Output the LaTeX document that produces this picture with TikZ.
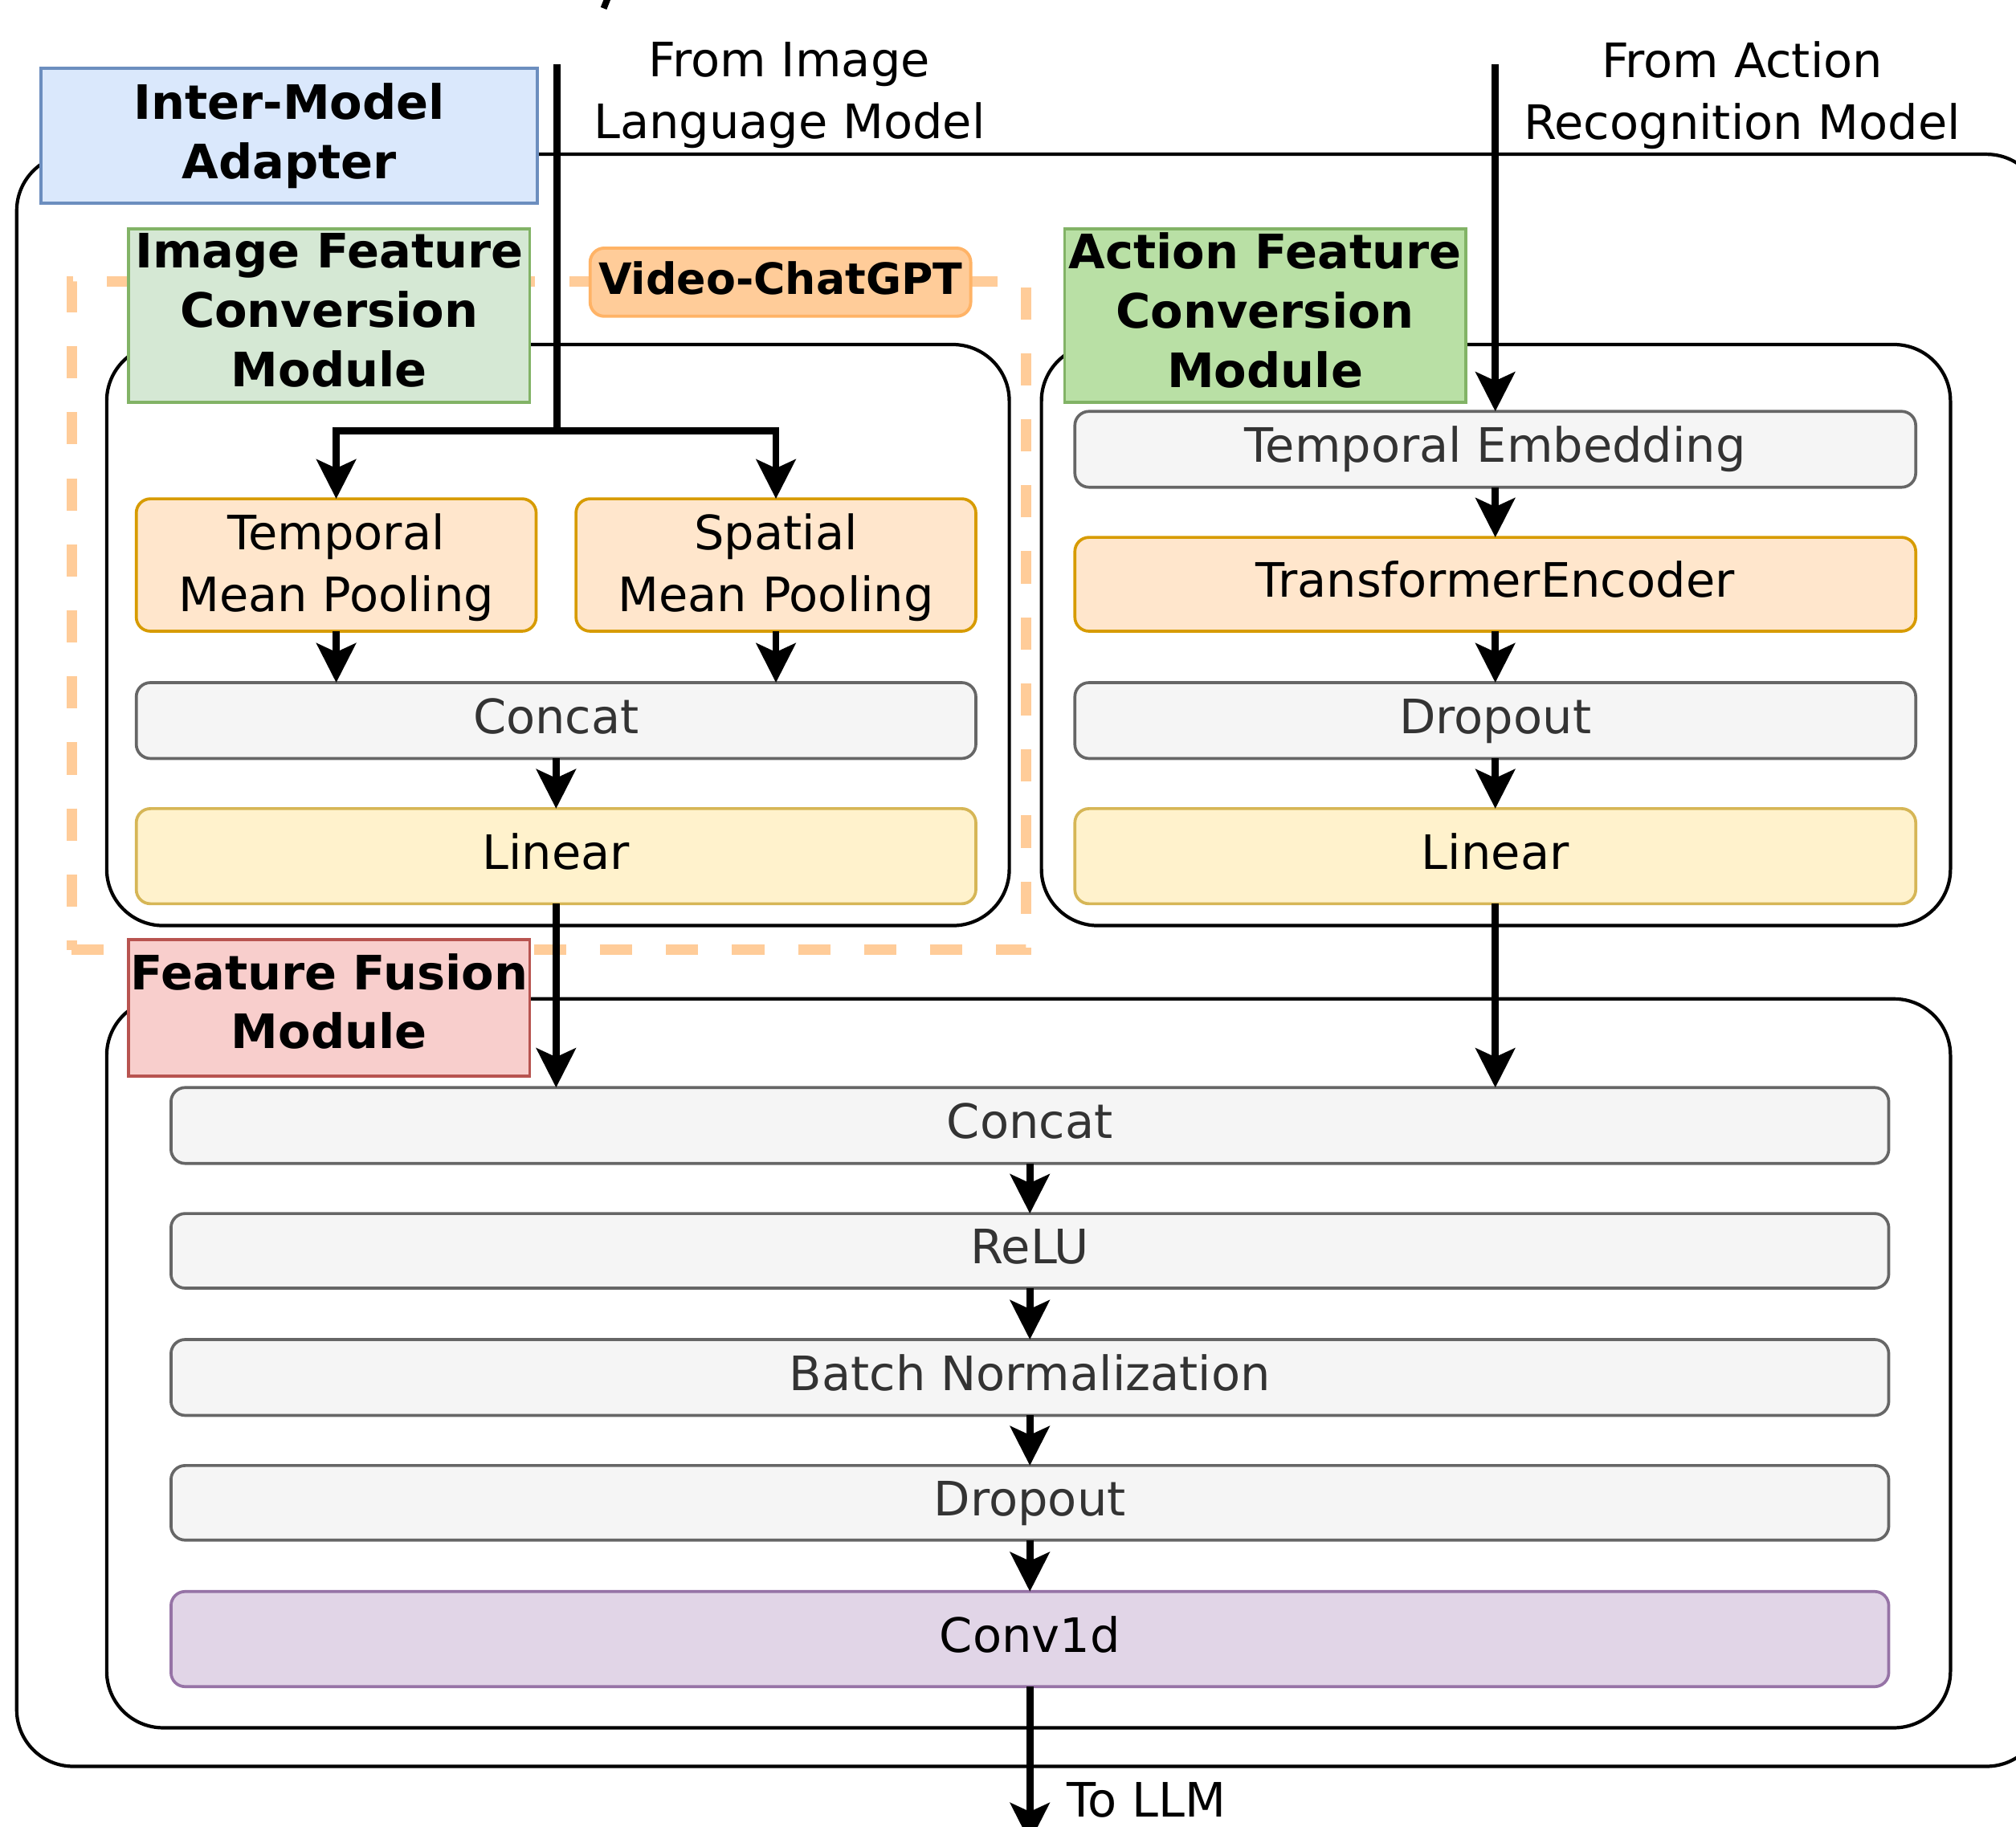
\documentclass[tikz,border=0pt]{standalone}
\usepackage{fontspec}
\setmainfont{DejaVu Sans}
\usetikzlibrary{arrows.meta,fit}
\definecolor{cgrayf}{HTML}{F5F5F5}
\definecolor{cgrayd}{HTML}{666666}
\definecolor{cgrayt}{HTML}{333333}
\definecolor{corf}{HTML}{FFE6CC}
\definecolor{cord}{HTML}{D79B00}
\definecolor{cyelf}{HTML}{FFF2CC}
\definecolor{cyeld}{HTML}{D6B656}
\definecolor{cpurf}{HTML}{E1D5E7}
\definecolor{cpurd}{HTML}{9673A6}
\definecolor{cbluef}{HTML}{DAE8FC}
\definecolor{cblued}{HTML}{6C8EBF}
\definecolor{cgrnf}{HTML}{D5E8D4}
\definecolor{cgrnd}{HTML}{82B366}
\definecolor{cgrn2f}{HTML}{B9E0A5}
\definecolor{credf}{HTML}{F8CECC}
\definecolor{credd}{HTML}{B85450}
\definecolor{cvcgf}{HTML}{FFCC99}
\definecolor{cvcgd}{HTML}{FFB366}
\definecolor{cdash}{HTML}{FFCC99}
\newcommand{\fsn}{\fontsize{16.8pt}{21.9pt}\selectfont}
\newcommand{\fsb}{\fontsize{16.8pt}{21pt}\selectfont\bfseries}
\newcommand{\fsv}{\fontsize{15.3pt}{19pt}\selectfont\bfseries}
% \mkbox[text shift]{style}{x1}{y1}{x2}{y2}{name}{text}
\newcommand{\mkbox}[8][0]{%
  \node[#2, minimum width={(#5-#3)*0.16008mm}, minimum height={(#6-#4)*0.16008mm}] (#7) at ({(#3+#5)/2},{(#4+#6)/2}) {};
  \node[#2, draw=none, fill=none, minimum width=0pt, minimum height=0pt] (#7-t) at ({(#3+#5)/2},{(#4+#6)/2+#1}) {#8};}
\tikzset{
  base/.style={inner sep=0pt, outer sep=0pt, align=center, font=\fsn},
  one/.style={text height=0.78em, text depth=0.22em},
  container/.style={base, draw=black, line width=1.2pt, rounded corners=20pt},
  blk/.style={base, line width=1.05pt, rounded corners=5pt},
  graybox/.style={blk, draw=cgrayd, fill=cgrayf, text=cgrayt},
  orangebox/.style={blk, draw=cord, fill=corf},
  yellowbox/.style={blk, draw=cyeld, fill=cyelf},
  purplebox/.style={blk, draw=cpurd, fill=cpurf},
  lbl/.style={base, font=\fsb, line width=1.1pt},
  vcgdash/.style={base, draw=cdash, line width=3.7pt, dash pattern=on 11.4pt off 12pt},
  arr/.style={line width=2.5pt, -{Stealth[length=13.9pt, width=13.9pt, inset=3.1pt]}},
  plain/.style={base, font=\fsn}
}
\begin{document}
\begin{tikzpicture}[x=0.16008mm, y=-0.16008mm]
\useasboundingbox (0,0) rectangle (1568,1421);
\clip (0,0) rectangle (1568,1421);
% cut-off fragment at top
\draw[line width=2.3pt] (469.5,6.5) -- (472.5,-1);
% containers
\node[container, fit={(13,120)(1589,1374)}] (adapter) {};
\node[vcgdash, fit={(55.6,219)(798,739)}] (vcg) {};
\node[container, fit={(83,268)(785,720)}] (imgmod) {};
\node[container, fit={(810,268)(1517,720)}] (actmod) {};
\node[container, fit={(83,777)(1517,1344)}] (fusmod) {};
% image branch
\mkbox[2]{orangebox}{106}{388}{417}{491}{tmp}{Temporal\\Mean Pooling}
\mkbox[2]{orangebox}{448}{388}{759}{491}{spa}{Spatial\\Mean Pooling}
\mkbox[4]{graybox,one}{106}{531}{759}{590}{cat1}{Concat}
\mkbox[4]{yellowbox,one}{106}{629}{759}{703}{lin1}{Linear}
% action branch
\mkbox[4]{graybox,one}{836}{320}{1490}{379}{temb}{Temporal Embedding}
\mkbox[4]{orangebox,one}{836}{418}{1490}{491}{tenc}{TransformerEncoder}
\mkbox[4]{graybox,one}{836}{531}{1490}{590}{drop1}{Dropout}
\mkbox[4]{yellowbox,one}{836}{629}{1490}{703}{lin2}{Linear}
% fusion
\mkbox[4]{graybox,one}{133}{846}{1469}{905}{fcat}{Concat}
\mkbox[4]{graybox,one}{133}{944}{1469}{1002}{relu}{ReLU}
\mkbox[4]{graybox,one}{133}{1042}{1469}{1101}{bn}{Batch Normalization}
\mkbox[4]{graybox,one}{133}{1140}{1469}{1198}{drop2}{Dropout}
\mkbox[4]{purplebox,one}{133}{1238}{1469}{1312}{conv}{Conv1d}
% labels
\mkbox{lbl, draw=cblued, fill=cbluef}{32}{53}{418}{158}{adlbl}{Inter-Model\\Adapter}
\mkbox[-4]{lbl, draw=cgrnd, fill=cgrnf}{100}{178}{412}{313}{imglbl}{Image Feature\\Conversion\\Module}
\mkbox[-4]{lbl, draw=cgrnd, fill=cgrn2f}{828}{178}{1140}{313}{actlbl}{Action Feature\\Conversion\\Module}
\mkbox[-5]{lbl, draw=credd, fill=credf}{100}{731}{412}{837}{fuslbl}{Feature Fusion\\Module}
\mkbox[3]{lbl, one, font=\fsv, draw=cvcgd, fill=cvcgf, rounded corners=5pt}{459}{193}{755}{246}{vcglbl}{Video-ChatGPT}
% sources and sink
\coordinate (srcimg) at (433,50);
\coordinate (split) at (433,335);
\coordinate (srcact) at (1163,50);
\coordinate (sink) at (801,1433);
\node[plain] (fromimg) at (614,74) {From Image\\Language Model};
\node[plain] (fromact) at (1355,74) {From Action\\Recognition Model};
\node[plain, anchor=west] (tollm) at (830,1400) {To LLM};
% arrows
\draw[line width=2.5pt] (srcimg) -- (split);
\draw[arr] (split) -| (tmp.north);
\draw[arr] (split) -| (spa.north);
\draw[arr] (tmp.south) -- (tmp.south |- cat1.north);
\draw[arr] (spa.south) -- (spa.south |- cat1.north);
\draw[arr] (cat1) -- (lin1);
\draw[arr] (lin1.south) -- (lin1.south |- fcat.north);
\draw[arr] (srcact) -- (temb.north);
\draw[arr] (temb) -- (tenc);
\draw[arr] (tenc) -- (drop1);
\draw[arr] (drop1) -- (lin2);
\draw[arr] (lin2.south) -- (lin2.south |- fcat.north);
\draw[arr] (fcat) -- (relu);
\draw[arr] (relu) -- (bn);
\draw[arr] (bn) -- (drop2);
\draw[arr] (drop2) -- (conv);
\draw[arr] (conv.south) -- (sink);
\end{tikzpicture}
\end{document}
